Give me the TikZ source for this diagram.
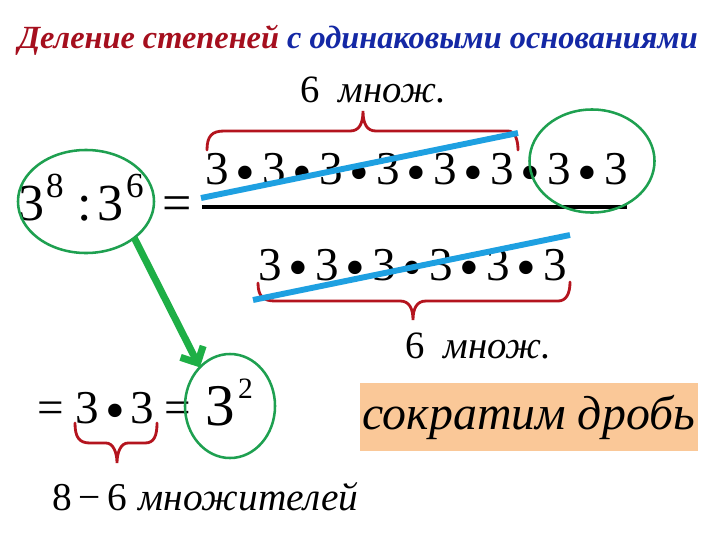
\documentclass[tikz,border=0pt]{standalone}
\usepackage{fontspec}
\setmainfont{Liberation Serif}
\usetikzlibrary{arrows.meta,shapes.geometric}
\definecolor{titlered}{RGB}{165,15,30}
\definecolor{titleblue}{RGB}{20,40,165}
\definecolor{bracered}{RGB}{180,20,30}
\definecolor{strikeblue}{RGB}{30,160,225}
\definecolor{ovalgreen}{RGB}{30,160,80}
\definecolor{arrowgreen}{RGB}{30,175,70}
\definecolor{peach}{RGB}{250,200,152}

\begin{document}
\begin{tikzpicture}
  [x=0.025cm, y=-0.025cm,
  every node/.style={inner sep=0pt, outer sep=0pt},
  title/.style={anchor=base west, font=\fontsize{23}{25}\selectfont\bfseries\itshape},
  digit/.style={anchor=base, font=\fontsize{33.5}{36}\selectfont},
  bigdigit/.style={anchor=base, font=\fontsize{37}{40}\selectfont},
  supdigit/.style={anchor=base, font=\fontsize{25}{27}\selectfont},
  dotop/.style={anchor=base, font=\fontsize{40}{42}\selectfont},
  count label/.style={anchor=base west, font=\fontsize{27.5}{30}\selectfont},
  oval/.style={draw=ovalgreen, line width=1.8pt, ellipse},
  strike/.style={strikeblue, line width=4.2pt},
  brace/.style={bracered, line width=2pt, line cap=round},
  ]
  \useasboundingbox[fill=white] (0,0) rectangle (720,540);

  % heading
  \node[title] (head) at (18,48)
    {\color{titlered}Деление степеней \color{titleblue}с одинаковыми основаниями};

  % left side 3^8 : 3^6 =
  \node[bigdigit] (b1) at (32,220) {3};
  \node[supdigit] (e1) at (55,197) {8};
  \node[bigdigit] (colon) at (85,220) {:};
  \node[bigdigit] (b2) at (111,220) {3};
  \node[supdigit] (e2) at (135,197) {6};
  \node[bigdigit] (eq1) at (177,220) {=};
  \node[oval, minimum width=3.4cm, minimum height=2.575cm] (lhs) at (86,201.5) {};

  % numerator
  \foreach \i in {1,...,8}
    \node[digit] (num\i) at ({217+57*(\i-1)},184) {3};
  \foreach \i in {1,...,7}
    \node[dotop] (numdot\i) at ({245.5+57*(\i-1)},191) {•};
  \draw[line width=2.8pt] (202,207) -- (627,207);

  % denominator
  \foreach \i in {1,...,6}
    \node[digit] (den\i) at ({270+57*(\i-1)},280) {3};
  \foreach \i in {1,...,5}
    \node[dotop] (dendot\i) at ({298.5+57*(\i-1)},286) {•};

  % braces
  \draw[brace] (207,150) .. controls (207,136) and (212,131) .. (224,131)
    -- (350,131) .. controls (359,131) and (363,124) .. (363,111)
    .. controls (363,124) and (367,131) .. (376,131)
    -- (508,131) .. controls (515,131) and (518,140) .. (518,150);
  \node[count label] (top count) at (300,102) {6\hspace{0.5em}\textit{множ.}};

  \draw[brace] (258,283) .. controls (258,296) and (263,301) .. (275,301)
    -- (400,301) .. controls (409,301) and (413,308) .. (413,320)
    .. controls (413,308) and (417,301) .. (426,301)
    -- (558,301) .. controls (566,301) and (570,294) .. (570,282);
  \node[count label] (bottom count) at (405,358) {6\hspace{0.5em}\textit{множ.}};

  % crossed out factors
  \draw[strike] (201,198) -- (518,133);
  \draw[strike] (253,300) -- (570,235);
  \node[oval, minimum width=3.125cm, minimum height=2.575cm] (rest) at (592,161) {};

  % result
  \node[digit] (eq2) at (50.5,423) {=};
  \node[digit] (r1) at (87,423) {3};
  \node[dotop] (rdot) at (115,429) {•};
  \node[digit] (r2) at (142,423) {3};
  \node[digit] (eq3) at (178,423) {=};
  \node[anchor=base, font=\fontsize{42}{44}\selectfont] (r3) at (220.5,425) {3};
  \node[anchor=base, font=\fontsize{21}{23}\selectfont] (e3) at (245.5,398) {2};
  \node[oval, minimum width=2.25cm, minimum height=2.6cm] (res) at (230,406) {};

  \draw[brace] (75,423) .. controls (75,437) and (79,443) .. (90,443)
    -- (106,443) .. controls (113,443) and (117,452) .. (117,463)
    .. controls (117,452) and (121,443) .. (128,443)
    -- (145,443) .. controls (154,443) and (157,436) .. (157,423);
  \node[anchor=base west, font=\fontsize{28}{30}\selectfont] (diff) at (52,510)
    {8\,−\,6\hspace{0.3em}\textit{множителей}};

  \draw[arrowgreen, line width=5pt, -{Straight Barb[length=9pt, width=18pt]}]
    (lhs.-37) -- (res.128);

  % hint box
  \node[fill=peach, minimum width=8.45cm, minimum height=1.7cm,
    font=\fontsize{34}{36}\selectfont\itshape] (hint) at (529,417) {сократим дробь};
\end{tikzpicture}
\end{document}
